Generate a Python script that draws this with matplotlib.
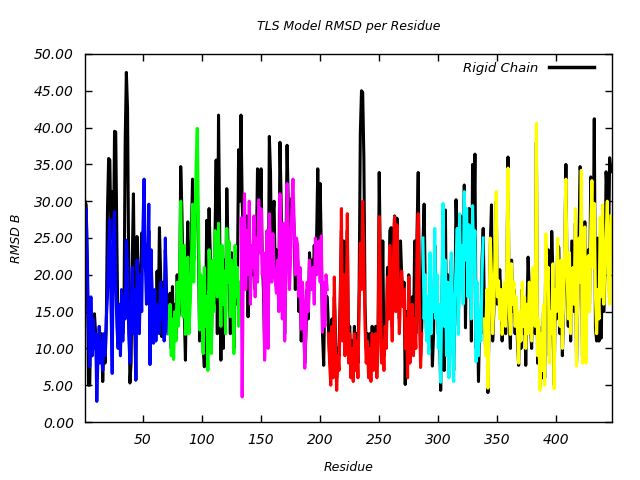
import numpy as np
import matplotlib
matplotlib.use("Agg")
import matplotlib.pyplot as plt

# residue ranges of the chain and of each TLS segment
chain_start = 1
seg_starts = [1, 72, 133, 207, 287, 339]
seg_colors = ["#0000ff", "#00ff00", "#ff00ff", "#ff0000", "#00ffff", "#ffff00"]

# rigid chain RMSD, residue 1..446
rigid = [
    30, 29.5, 20, 5, 5, 15, 9, 12, 14.7, 12,
    8, 10, 12, 9, 12, 5.5, 11, 8, 13, 28.6,
    35.8, 35.6, 25, 31.3, 22, 39.5, 39.4, 24, 11, 15,
    10, 17, 12, 15, 38.1, 47.5, 42.6, 20, 5.3, 8,
    22, 31, 15, 5.7, 25.2, 20, 14, 18, 25.7, 24,
    27, 21, 24, 18, 26, 9, 22, 15, 11, 17,
    12, 20.5, 14, 26.4, 20, 11.6, 19, 12, 23.4, 17.5, 13,
    13, 17.5, 10, 18.4, 11, 16, 11.2, 20, 14, 15,
    34.7, 28.8, 19, 15, 8.4, 20, 27.2, 14, 18, 25,
    33, 22, 28, 30, 31, 24, 11, 18, 13, 10,
    7.5, 14, 27.4, 18, 29, 23, 11, 20, 16, 25,
    35.6, 12, 41.7, 26, 8.4, 23.4, 10, 22, 15, 31.7,
    24, 20, 12, 23, 17, 10, 22, 16, 20, 37, 30,
    41.7, 30, 25, 24, 20, 28, 14.3, 26, 18, 22,
    20, 26, 18, 23, 34.4, 33, 27, 34.4, 22, 18,
    10, 14, 24, 12, 38.8, 33.9, 20, 28, 30, 20,
    23.4, 21, 17, 38, 30, 16, 26, 12, 22, 37.6,
    30, 24, 28, 30.4, 30, 26, 18, 24, 22, 15,
    20, 11, 17, 14, 8, 12, 18, 14, 23, 20,
    22, 18, 24, 20, 25, 34.4, 22, 32.4, 23.4, 12, 7.7, 18, 17, 17,
    13, 9, 7, 14, 8, 17, 12, 6, 10, 9,
    17, 26, 14, 24.6, 11, 17, 26, 10, 13, 8,
    11, 7, 13, 9, 12, 8, 18, 39.2, 45, 44.8,
    36, 16, 10, 12, 8, 12, 7, 13, 9, 11,
    13, 8, 12, 33.9, 21, 10, 24.6, 9, 14, 11,
    21, 16, 26, 26.4, 13, 24, 28, 17, 27.7, 22,
    14, 24.6, 20, 17, 19, 5.1, 15, 8, 20, 10,
    13, 17, 11, 24.6, 12, 26, 33.9, 18, 9, 13,
    24, 29.6, 18, 12, 15, 10, 20, 14, 7.6, 12,
    24, 16, 18, 12, 14, 4.3, 16, 26, 7, 28.8,
    11, 20, 8, 14, 22, 13, 7, 16, 30.2, 24,
    13, 27, 28, 20, 18, 32.2, 12.8, 27, 18, 29,
    24, 11, 35, 25, 36.4, 10, 17, 5.5, 14, 12, 22, 26.3,
    15, 10, 17, 4, 14, 24, 29.5, 11, 15, 22,
    30, 16, 18, 20.7, 17, 11, 15, 18, 12, 20,
    36, 14, 10, 22, 15, 18, 12, 16, 11, 7.7,
    14, 10, 18, 12, 16, 7.7, 15, 22.4, 18, 13,
    10, 20, 16, 12, 38, 8, 13, 4.8, 11, 6,
    15, 6, 24, 17, 23.4, 9, 14, 25.9, 20, 5,
    17, 14, 24, 23.7, 12, 20.7, 9, 15, 23, 35,
    19, 13, 22, 11, 24.6, 20, 15, 27, 8, 16,
    24, 34.7, 33, 9, 17, 27.2, 10, 21, 23.4, 16,
    33.3, 30, 22, 41.2, 12.8, 11, 25, 11, 12, 11.4,
    28, 15, 20, 34, 31, 22, 35.9, 34,
]

# TLS segment RMSD
seg_blue = [
    27, 29, 22, 12, 7.5, 17, 9, 14, 10, 12,
    2.8, 9, 13, 8, 11, 7, 12, 9, 14, 17,
    24, 27.5, 16, 6.6, 25, 28.6, 19, 13, 10, 16,
    9, 18, 11, 17, 14, 24.7, 21, 12, 8, 15,
    21, 12, 18, 5.7, 22, 17.8, 12, 20, 15, 26,
    33, 22, 16, 19, 29.6, 7.8, 23.4, 14, 10.7, 18,
    11, 16, 15.7, 12, 19, 14, 18, 11, 25, 14, 12,
]
seg_green = [
    12, 16, 9, 14, 8.5, 15, 11, 19, 13, 17,
    30, 20, 14.3, 24, 11.9, 18, 22.4, 12, 16, 21,
    29.6, 19, 25, 34.7, 39.9, 28, 12.5, 20, 14.5, 9.3,
    21, 13, 17, 7, 23.4, 18, 9.3, 22, 15, 26,
    25, 17, 27, 20, 13, 24, 16, 20.5, 12, 26.3,
    19, 24.5, 14.3, 22, 18, 9.3, 24, 17, 21, 13, 19,
]
seg_magenta = [
    27.7, 3.4, 22, 31, 18, 26, 20, 30, 16, 24,
    21, 28, 17, 25, 19, 30.2, 23, 29, 20, 23,
    8.4, 12.5, 26, 10, 28.3, 24, 19, 25.6, 21, 19.2,
    17.5, 22, 15, 31, 24, 14, 27, 11, 20, 32.4,
    26, 18, 22, 29, 33, 27, 20, 25, 24, 17,
    21, 12.6, 19, 16, 7.3, 13, 19, 15, 22, 18,
    18, 21, 16, 25, 20, 22, 24.6, 19, 25.3, 12.2, 19, 13, 20, 18,
]
seg_red = [
    12, 8, 5, 13, 6, 19.7, 10, 4.3, 9, 7,
    15, 29, 11, 20, 9, 14, 28.3, 8, 12, 6,
    10, 5.5, 12, 7, 11, 6, 15.7, 24.3, 18, 30,
    22, 13, 8, 11, 6, 10, 5.5, 12, 7, 9,
    12, 6, 10, 27.9, 19, 8, 11, 7, 13, 10,
    19.7, 14, 24, 17, 11, 22, 27.9, 15, 26.8, 20,
    12, 17, 20.5, 15.7, 18, 10, 14, 6, 19.7, 8,
    12, 16, 9, 14, 10, 24, 28.3, 16, 7.4, 12,
]
seg_cyan = [
    25, 14, 20, 11, 17, 9.3, 23, 12, 18, 15,
    26.3, 14, 20, 10, 16, 5.4, 18, 29.7, 13, 22,
    9, 19, 6, 15, 23, 11, 5.5, 17, 21, 26.3,
    11.9, 28.3, 18, 24, 16, 31.3, 22, 29, 17, 26.8,
    20, 14, 29.4, 22, 26, 8.2, 19, 9, 15, 11, 20, 25,
]
seg_yellow = [
    14, 9, 18, 4.6, 15, 25, 20, 12, 16, 23,
    31.3, 17, 19.2, 14, 18, 11.9, 16, 19, 13, 22,
    34.5, 15, 11.9, 21.5, 16, 19, 13, 17, 12.6, 8,
    15, 11, 19, 13, 17, 10, 16, 12, 19, 14,
    11, 21, 17, 13, 40.6, 9, 14, 4.3, 12, 7,
    16, 5, 25.6, 18, 21, 8, 15, 12, 21.5, 4.5,
    18, 15, 25, 17, 13, 22, 10, 16, 24, 33,
    20, 14, 23, 12, 18, 21, 16, 29, 7.6, 17,
    25, 19, 34.2, 8, 18, 26.5, 8, 20, 22.6, 15,
    26, 32.8, 21, 29.7, 17, 12, 18, 14, 27.8, 17,
    29.5, 16, 21, 25, 30, 18, 16, 28,
]
segments = [seg_blue, seg_green, seg_magenta, seg_red, seg_cyan, seg_yellow]

plt.rcParams['font.family'] = ['DejaVu Sans']
plt.rcParams['font.style'] = 'italic'
plt.rcParams['font.size'] = 9

fig = plt.figure(figsize=(6.4, 4.8), dpi=100)
ax = fig.add_axes([85/640, 58/480, 527/640, 368/480])

res = np.arange(chain_start, chain_start + len(rigid))
ax.plot(res, rigid, color="black", lw=2.2, label="Rigid Chain")
for st, vals, c in zip(seg_starts, segments, seg_colors):
    x = np.arange(st, st + len(vals))
    ax.plot(x, vals, color=c, lw=2.2)

ax.set_xlim(1, 447)
ax.set_ylim(0, 50)
ax.set_xticks(np.arange(50, 401, 50))
ax.set_yticks(np.arange(0, 50.1, 5))
ax.yaxis.set_major_formatter(matplotlib.ticker.FormatStrFormatter('%.2f'))
ax.tick_params(direction='in', length=5, width=1, top=True, right=True,
               pad=8, labelsize=10)
for s in ax.spines.values():
    s.set_linewidth(1)

ax.set_title("TLS Model RMSD per Residue", fontsize=9, pad=17)
ax.set_xlabel("Residue", labelpad=10)
ax.set_ylabel("RMSD B", labelpad=8)
leg = ax.legend(loc='upper right', frameon=False, handlelength=3.4,
                markerfirst=False, borderaxespad=0.2, fontsize=9.5,
                bbox_to_anchor=(1 - 10/527, 1.0))
for line in leg.get_lines():
    line.set_linewidth(2.5)

fig.savefig("out.png", dpi=100)
